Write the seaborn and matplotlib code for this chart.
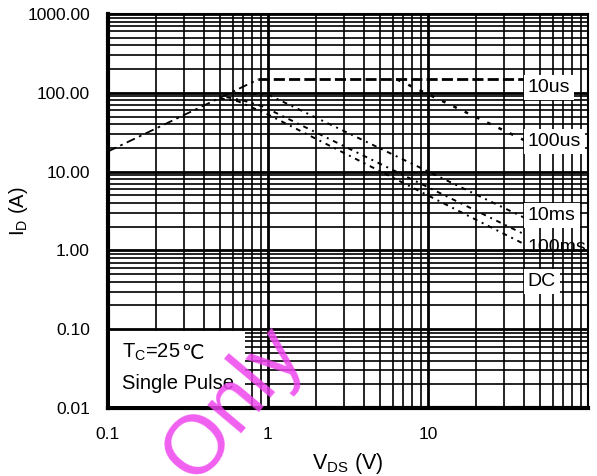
import matplotlib
matplotlib.use("Agg")
import matplotlib.pyplot as plt
import seaborn as sns
import pandas as pd
from matplotlib.ticker import FixedLocator, LogLocator, NullFormatter
from matplotlib.patches import Rectangle

# ---- data ----
V_rise = [0.1, 0.87]
I_rise = [18, 148]
V_10us = [0.87, 40]
I_10us = [148, 148]
V_100us = [6.4, 40]
I_100us = [148, 25]
V_10ms = [0.62, 1.0, 40]
I_10ms = [100, 95, 2.6]
V_100ms = [0.55, 0.7, 0.93, 40]
I_100ms = [88, 80, 67, 1.6]
V_DC = [0.5, 0.65, 1.0, 40]
I_DC = [85, 78, 53, 1.2]

y_ticks = [0.01, 0.1, 1, 10, 100, 1000]
y_ticklabels = ["0.01", "0.10", "1.00", "10.00", "100.00", "1000.00"]
x_ticks = [0.1, 1, 10, 100]
x_ticklabels = ["0.1", "1", "10", ""]

curve_labels = ["10us", "100us", "10ms", "100ms", "DC"]
label_y = [116, 24, 2.8, 1.1, 0.4]

sns.set_style("white")
plt.rcParams["font.family"] = ["Liberation Sans", "DejaVu Sans", "Noto Sans CJK SC"]
plt.rcParams["text.color"] = "black"
plt.rcParams["axes.labelcolor"] = "black"
plt.rcParams["xtick.color"] = "black"
plt.rcParams["ytick.color"] = "black"

fig = plt.figure(figsize=(5.97, 4.76), dpi=100)
ax = fig.add_axes([108/597, 68/476, 480/597, 394/476])
ax.set_xscale("log")
ax.set_yscale("log")
ax.set_xlim(0.1, 100)
ax.set_ylim(0.01, 1000)

series = [
    (V_rise, I_rise, (0, (5, 2.5, 1.5, 2.5)), 1.3),
    (V_10us, I_10us, (0, (4, 1.5)), 2.0),
    (V_100us, I_100us, (0, (1.5, 3.5)), 1.8),
    (V_10ms, I_10ms, (0, (2.5, 2.5, 1, 2.5)), 1.4),
    (V_100ms, I_100ms, (0, (2.5, 2.5, 1, 2.5)), 1.4),
    (V_DC, I_DC, (0, (2.5, 2.5, 1, 2.5)), 1.4),
]
for xs, ys, ls, lw in series:
    df = pd.DataFrame({"V": xs, "I": ys})
    sns.lineplot(data=df, x="V", y="I", ax=ax, color="black", sort=False,
                 estimator=None, linestyle=ls, linewidth=lw, zorder=4)

# grid
ax.yaxis.set_major_locator(FixedLocator(y_ticks))
ax.set_yticklabels(y_ticklabels)
ax.xaxis.set_major_locator(FixedLocator(x_ticks))
ax.set_xticklabels(x_ticklabels)
ax.xaxis.set_minor_locator(LogLocator(base=10, subs=range(2, 10), numticks=20))
ax.yaxis.set_minor_locator(LogLocator(base=10, subs=range(2, 10), numticks=20))
ax.xaxis.set_minor_formatter(NullFormatter())
ax.yaxis.set_minor_formatter(NullFormatter())
ax.grid(which="major", color="black", lw=2.0, zorder=2)
ax.grid(which="minor", color="black", lw=1.2, zorder=2)
ax.set_axisbelow(False)
ax.tick_params(which="both", length=0, labelsize=12.5, labelcolor="black")
ax.tick_params(axis="y", pad=13)
ax.tick_params(axis="x", pad=14)

for s in ["left", "bottom"]:
    ax.spines[s].set_linewidth(3)
for s in ["top", "right"]:
    ax.spines[s].set_linewidth(1.5)
for s in ax.spines.values():
    s.set_color("black")

# curve labels
for lab, yv in zip(curve_labels, label_y):
    if lab == "100ms":
        ax.text(42, yv, lab, fontsize=14, va="center", ha="left", zorder=1)
    else:
        ax.text(42, yv, lab, fontsize=14, va="center", ha="left", zorder=6,
                bbox=dict(facecolor="white", edgecolor="none", pad=3.0))

# condition box
ax.add_patch(Rectangle((0.004, 0.005), 0.281, 0.19, transform=ax.transAxes,
                       facecolor="white", edgecolor="none", zorder=5))
t1 = ax.text(0.03, 0.142, "T$_\\mathregular{C}$=25", transform=ax.transAxes,
             fontsize=14.5, va="center", ha="left", zorder=6)
ax.annotate("℃", xy=(1, 0), xycoords=t1, xytext=(0, 0), textcoords="offset points",
            fontsize=14.5, va="bottom", ha="left", zorder=6,
            family=["DejaVu Sans", "Noto Sans CJK SC"])
ax.text(0.03, 0.063, "Single Pulse", transform=ax.transAxes,
        fontsize=14.5, va="center", ha="left", zorder=6)

ax.set_xlabel("V$_\\mathregular{DS}$ (V)", fontsize=15.5, labelpad=6)
ax.set_ylabel("I$_\\mathregular{D}$ (A)", fontsize=14.5)
ax.yaxis.set_label_coords(-0.163, 0.5)

# watermark
fig.text(0.39, 0.15, "Only", fontsize=60, color="#ee44ee", alpha=0.85,
         rotation=50, ha="center", va="center", zorder=10)

fig.savefig("out.png", dpi=100)
